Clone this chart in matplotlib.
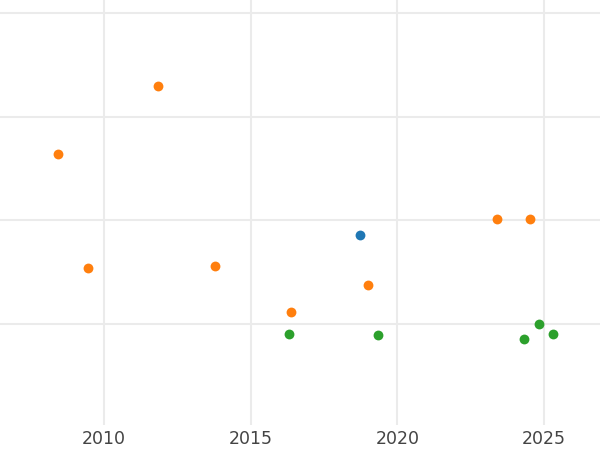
import numpy as np
import matplotlib.pyplot as plt

# values
blue_x = [2018.72]
blue_y = [0.86]

orange_x = [2008.43, 2011.84, 2009.45, 2013.78, 2016.37, 2019.00, 2023.40, 2024.52]
orange_y = [1.64, 2.30, 0.54, 0.56, 0.12, 0.38, 1.01, 1.01]

green_x = [2016.30, 2019.34, 2024.32, 2024.83, 2025.30]
green_y = [-0.09, -0.10, -0.14, 0.0, -0.09]

xticks = [2010, 2015, 2020, 2025]

fig = plt.figure(figsize=(6, 4.5), dpi=100)
ax = fig.add_axes([0, 0.056, 1, 0.944])

ax.scatter(blue_x, blue_y, s=50, color="#1f77b4", zorder=3, linewidths=0)
ax.scatter(orange_x, orange_y, s=50, color="#ff7f0e", zorder=3, linewidths=0)
ax.scatter(green_x, green_y, s=50, color="#2ca02c", zorder=3, linewidths=0)

ax.set_xlim(2006.45, 2026.91)
ax.set_ylim(-0.97, 3.125)
ax.set_xticks(xticks)
ax.set_xticklabels([str(t) for t in xticks], fontsize=12.5, color="#444444")
ax.set_yticks([0, 1, 2, 3])
ax.set_yticklabels([])
ax.tick_params(length=0, pad=4)
ax.grid(True, color="#ebebeb", linewidth=1.5)
ax.set_axisbelow(True)
for s in ax.spines.values():
    s.set_visible(False)

fig.savefig("out.png", dpi=100)
